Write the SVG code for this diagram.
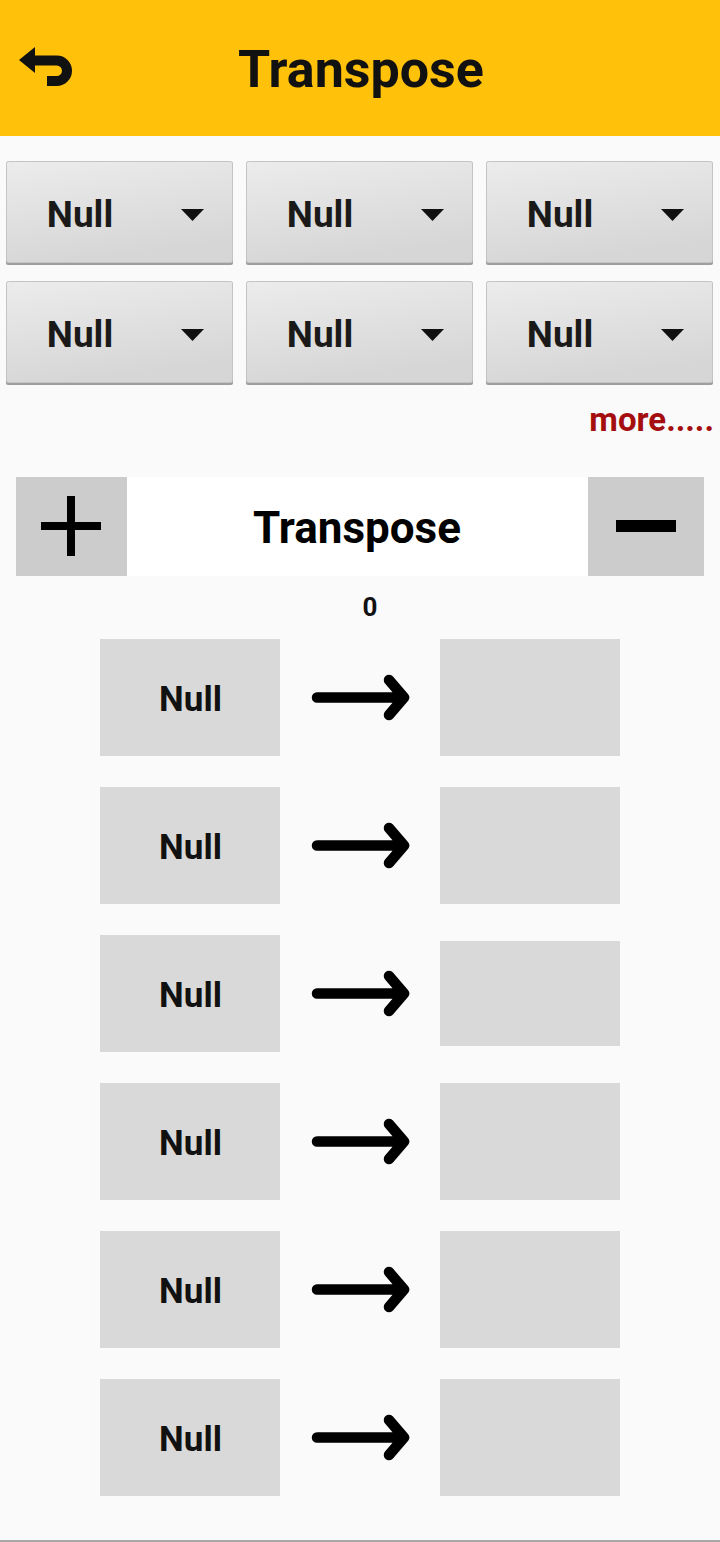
<svg xmlns="http://www.w3.org/2000/svg" width="720" height="1542" viewBox="0 0 720 1542">
  <defs>
    <linearGradient id="btnGrad" x1="0" y1="0" x2="0.3" y2="1">
      <stop offset="0" stop-color="#ECECEC"/>
      <stop offset="1" stop-color="#D6D6D6"/>
    </linearGradient>
  </defs>
  <style>
    text { font-family: Roboto, "Liberation Sans", Arial, sans-serif; font-weight: bold; fill: #111; }
    .ddtxt { font-size: 37px; text-anchor: middle; fill: #1A1A1A; }
    .dd { fill: url(#btnGrad); stroke: #C4C4C4; stroke-width: 1; }
    .ddshadow { fill: #9E9E9E; }
    .tri { fill: #111; }
    .cell { fill: #D9D9D9; }
    .celltxt { font-size: 35px; text-anchor: middle; }
    .arrow { fill: none; stroke: #000; stroke-width: 10.5; stroke-linecap: round; stroke-linejoin: round; }
    .pm { fill: #CCCCCC; }
  </style>

  <rect x="0" y="0" width="720" height="1542" fill="#FAFAFA"/>

  <!-- header -->
  <g id="header">
    <rect x="0" y="0" width="720" height="136" fill="#FFC10A"/>
    <path d="M35,60.5 H56.75 A10.25,10.25 0 0 1 56.75,81 H47" fill="none" stroke="#111" stroke-width="10"/>
    <polygon points="19,60 35,47 35,73" fill="#111"/>
    <text x="361" y="87" font-size="52" text-anchor="middle">Transpose</text>
  </g>

  <!-- dropdowns -->
  <g id="dd1">
    <rect class="ddshadow" x="6" y="162" width="227" height="103" rx="2"/>
    <rect class="dd" x="6.5" y="161.5" width="226" height="101" rx="2"/>
    <text class="ddtxt" x="80" y="227">Null</text>
    <polygon class="tri" points="181,209 204,209 192.5,221"/>
  </g>
  <g id="dd2">
    <rect class="ddshadow" x="246" y="162" width="227" height="103" rx="2"/>
    <rect class="dd" x="246.5" y="161.5" width="226" height="101" rx="2"/>
    <text class="ddtxt" x="320" y="227">Null</text>
    <polygon class="tri" points="421,209 444,209 432.5,221"/>
  </g>
  <g id="dd3">
    <rect class="ddshadow" x="486" y="162" width="227" height="103" rx="2"/>
    <rect class="dd" x="486.5" y="161.5" width="226" height="101" rx="2"/>
    <text class="ddtxt" x="560" y="227">Null</text>
    <polygon class="tri" points="661,209 684,209 672.5,221"/>
  </g>
  <g id="dd4">
    <rect class="ddshadow" x="6" y="282" width="227" height="103" rx="2"/>
    <rect class="dd" x="6.5" y="281.5" width="226" height="101" rx="2"/>
    <text class="ddtxt" x="80" y="347">Null</text>
    <polygon class="tri" points="181,329 204,329 192.5,341"/>
  </g>
  <g id="dd5">
    <rect class="ddshadow" x="246" y="282" width="227" height="103" rx="2"/>
    <rect class="dd" x="246.5" y="281.5" width="226" height="101" rx="2"/>
    <text class="ddtxt" x="320" y="347">Null</text>
    <polygon class="tri" points="421,329 444,329 432.5,341"/>
  </g>
  <g id="dd6">
    <rect class="ddshadow" x="486" y="282" width="227" height="103" rx="2"/>
    <rect class="dd" x="486.5" y="281.5" width="226" height="101" rx="2"/>
    <text class="ddtxt" x="560" y="347">Null</text>
    <polygon class="tri" points="661,329 684,329 672.5,341"/>
  </g>

  <g id="more">
    <text x="714" y="431" font-size="33" text-anchor="end" style="fill:#A50E0E">more.....</text>
  </g>

  <!-- plus / title / minus -->
  <g id="plus">
    <rect class="pm" x="16" y="477" width="111" height="99"/>
    <rect x="41" y="522" width="60" height="8" fill="#000"/>
    <rect x="67" y="496" width="8" height="60" fill="#000"/>
  </g>
  <g id="title">
    <rect x="127" y="477" width="461" height="99" fill="#FFFFFF"/>
    <text x="357" y="543" font-size="44" text-anchor="middle" style="fill:#000">Transpose</text>
  </g>
  <g id="minus">
    <rect class="pm" x="588" y="477" width="116" height="99"/>
    <rect x="616" y="520" width="60" height="12" fill="#000"/>
  </g>

  <g id="counter">
    <text x="370" y="616" font-size="26" text-anchor="middle">0</text>
  </g>

  <!-- rows -->
  <g id="row1">
    <rect class="cell" x="100" y="639" width="180" height="117"/>
    <text class="celltxt" x="190.5" y="711">Null</text>
    <rect class="cell" x="440" y="639" width="180" height="117"/>
  </g>
  <g id="row2">
    <rect class="cell" x="100" y="787" width="180" height="117"/>
    <text class="celltxt" x="190.5" y="859">Null</text>
    <rect class="cell" x="440" y="787" width="180" height="117"/>
  </g>
  <g id="row3">
    <rect class="cell" x="100" y="935" width="180" height="117"/>
    <text class="celltxt" x="190.5" y="1007">Null</text>
    <rect class="cell" x="440" y="941" width="180" height="105"/>
  </g>
  <g id="row4">
    <rect class="cell" x="100" y="1083" width="180" height="117"/>
    <text class="celltxt" x="190.5" y="1155">Null</text>
    <rect class="cell" x="440" y="1083" width="180" height="117"/>
  </g>
  <g id="row5">
    <rect class="cell" x="100" y="1231" width="180" height="117"/>
    <text class="celltxt" x="190.5" y="1303">Null</text>
    <rect class="cell" x="440" y="1231" width="180" height="117"/>
  </g>
  <g id="row6">
    <rect class="cell" x="100" y="1379" width="180" height="117"/>
    <text class="celltxt" x="190.5" y="1451">Null</text>
    <rect class="cell" x="440" y="1379" width="180" height="117"/>
  </g>

  <!-- connectors -->
  <g id="connectors">
    <path class="arrow" d="M317,697.5 H404 M389,680 L404,697.5 L389,715"/>
    <path class="arrow" d="M317,845.5 H404 M389,828 L404,845.5 L389,863"/>
    <path class="arrow" d="M317,993.5 H404 M389,976 L404,993.5 L389,1011"/>
    <path class="arrow" d="M317,1141.5 H404 M389,1124 L404,1141.5 L389,1159"/>
    <path class="arrow" d="M317,1289.5 H404 M389,1272 L404,1289.5 L389,1307"/>
    <path class="arrow" d="M317,1437.5 H404 M389,1420 L404,1437.5 L389,1455"/>
  </g>

  <rect x="0" y="1540" width="720" height="2" fill="#A8A8A8"/>
</svg>
